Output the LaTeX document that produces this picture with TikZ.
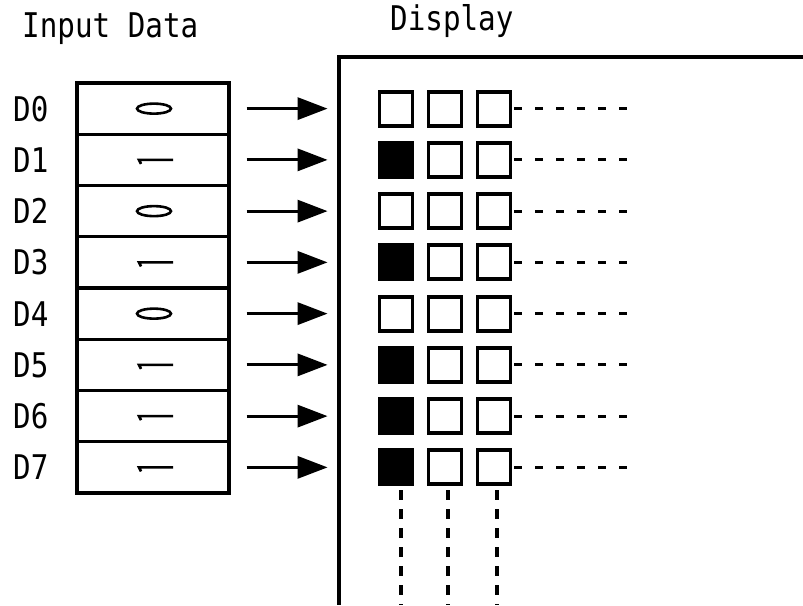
\documentclass[tikz,border=0pt]{standalone}
\usepackage{fontspec}
\newfontfamily\monofont[FakeStretch=0.86]{DejaVu Sans Mono}
\usetikzlibrary{arrows.meta,shapes.geometric}
\begin{document}
\begin{tikzpicture}[x=1pt,y=-1pt,
  lbl/.style={font=\monofont\fontsize{34}{34}\selectfont, inner sep=0pt},
  cell/.style={draw, line width=3.2pt, minimum width=152pt, minimum height=51.25pt, inner sep=0pt},
  pix/.style={draw, line width=3.8pt, minimum width=33pt, minimum height=34pt, inner sep=0pt},
  pixon/.style={pix, fill=black},
  arr/.style={line width=3.2pt, -{Triangle[length=30pt,width=22pt]}, shorten <=16pt, shorten >=50pt},
  hdash/.style={line width=3.2pt, dash pattern=on 8pt off 13pt},
  vdash/.style={line width=3.2pt, dash pattern=on 10pt off 9pt},
  zero/.style={draw, line width=2.6pt, ellipse, minimum width=34pt, minimum height=10pt, inner sep=0pt},
  frame/.style={line width=3.4pt}
]
\useasboundingbox (0,0) rectangle (803,605);
\fill[white] (0,0) rectangle (803,605);

% headings
\node[lbl, anchor=base west] (hin) at (22,37) {Input Data};
\node[lbl, anchor=base west] (hdisp) at (390,30) {Display};

% display frame
\coordinate (fr) at (803,57);
\coordinate (fc) at (339,57);
\coordinate (fb) at (339,605);
\draw[frame] (fr) -- (fc) -- (fb);

% rows
\foreach \i/\v in {0/0,1/1,2/0,3/1,4/0,5/1,6/1,7/1} {
  \pgfmathsetmacro{\yc}{83+51.25*(\i+0.5)}
  \node[cell] (r\i) at (153,\yc) {};
  \node[lbl, anchor=west] (d\i) at (13,\yc) {D\i};
  \ifnum\v=0
    \node[zero] (z\i) at (154,\yc) {};
  \else
    \coordinate (oa\i) at (139,\yc);
    \coordinate (ob\i) at (173,\yc);
    \coordinate (ot\i) at (141,\yc+4);
    \draw[line width=2.6pt] (ob\i) -- (oa\i) -- (ot\i);
  \fi
  % pixels
  \ifnum\v=0
    \node[pix] (s\i-0) at (396,\yc) {};
  \else
    \node[pixon] (s\i-0) at (396,\yc) {};
  \fi
  \node[pix] (s\i-1) at (445,\yc) {};
  \node[pix] (s\i-2) at (494,\yc) {};
  \draw[arr] (r\i.east) -- (s\i-0.west);
  \coordinate (e\i) at (630,\yc);
  \draw[hdash] ([xshift=2pt]s\i-2.east) -- (e\i);
}

% vertical continuation
\foreach \j/\x in {0/401,1/448,2/497} {
  \coordinate (vt\j) at (\x,490);
  \coordinate (vb\j) at (\x,605);
  \draw[vdash] (vt\j) -- (vb\j);
}
\end{tikzpicture}
\end{document}
